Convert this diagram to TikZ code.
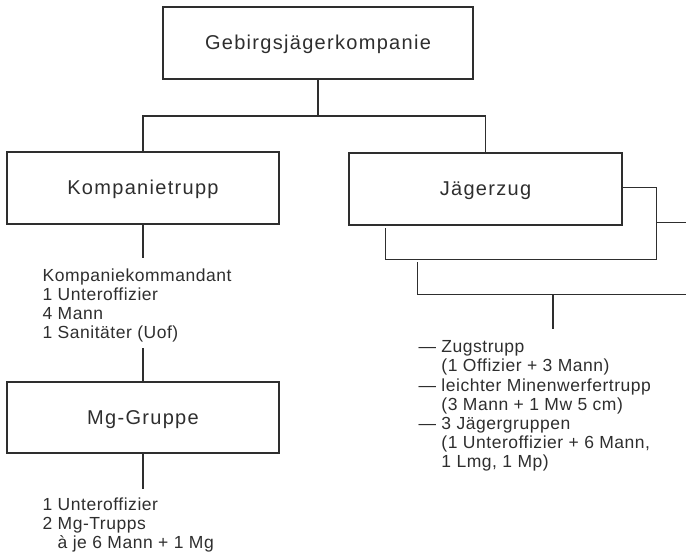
\documentclass[tikz,border=0pt]{standalone}
\usepackage{fontspec}
\setmainfont{Liberation Sans}
\newfontfamily\boxfont[LetterSpace=6.5]{Liberation Sans}
\newfontfamily\listfont[LetterSpace=3]{Liberation Sans}
\usetikzlibrary{positioning}

\tikzset{
  unit/.style={draw, minimum width=272pt, minimum height=72pt, inner sep=0pt,
    text height=14pt, text depth=0pt, font=\boxfont\fontsize{20}{24}\selectfont},
  backunit/.style={minimum width=270pt, minimum height=71pt, inner sep=0pt},
  liste/.style={anchor=north west, align=left, inner sep=0pt,
    font=\listfont\fontsize{17.5}{19.2}\selectfont}
}

\begin{document}
\begin{tikzpicture}[x=1pt, y=-1pt, line width=1.2pt, black!82]
\useasboundingbox (0,0) rectangle (686,556);
\clip (0,0) rectangle (686,556);

% Kompanie
\node[unit, minimum width=310pt] (gjk) at (318,43) {Gebirgsjägerkompanie};
\coordinate (split) at (318,116);

% Kompanietrupp und Mg-Gruppe
\node[unit] (kt) at (143,188) {Kompanietrupp};
\node[liste] (ktlist) at (42,268) {Kompaniekommandant\\1 Unteroffizier\\4 Mann\\1 Sanitäter (Uof)};
\node[unit, minimum height=71pt] (mg) at (143,417.5) {Mg-Gruppe};
\node[liste] (mglist) at (42,497) {1 Unteroffizier\\2 Mg-Trupps\\\hphantom{2 }à je 6 Mann + 1 Mg};

% Jaegerzuege (gestapelt)
\node[unit, minimum width=273pt] (jz) at (485.5,189) {Jägerzug};
\node[backunit] (jz2) at (521,223.5) {};
\node[backunit] (jz3) at (553,258.5) {};
\node[liste] (jzlist) at (418,340) {— Zugstrupp\\\hphantom{— }(1 Offizier + 3 Mann)\\— leichter Minenwerfertrupp\\\hphantom{— }(3 Mann + 1 Mw 5 cm)\\— 3 Jägergruppen\\\hphantom{— }(1 Unteroffizier + 6 Mann,\\\hphantom{— }1 Lmg, 1 Mp)};

\draw[shorten >=2pt] (jz.east |- jz2.north) -| (jz2.south east) -| (jz2.west |- jz.south);
\draw[shorten >=2pt] (jz2.east |- jz3.north) -| (jz3.south east) -| (jz3.west |- jz2.south);

% Verbindungen
\draw (gjk.south) -- (split);
\draw (kt.north) |- (split) -| (jz.north);
\draw[shorten >=10pt] (kt.south) -- (kt.south |- ktlist.north);
\draw[shorten <=5pt] (ktlist.south -| kt.south) -- (mg.north);
\draw[shorten >=8pt] (mg.south) -- (mg.south |- mglist.north);
\draw[shorten >=11pt] (jz3.south) -- (jz3.south |- jzlist.north);
\end{tikzpicture}
\end{document}
